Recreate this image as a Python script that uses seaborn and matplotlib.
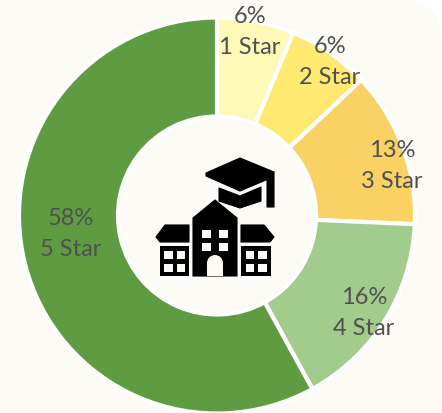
import matplotlib
matplotlib.use("Agg")
import matplotlib.pyplot as plt
from matplotlib.patches import Polygon, Rectangle, Circle, FancyBboxPatch
import seaborn as sns

sns.set_theme(style="white")
plt.rcParams['font.family'] = ['Lato', 'DejaVu Sans']

# share of ratings, clockwise from the top
ratings = ["1 Star", "2 Star", "3 Star", "4 Star", "5 Star"]
shares = [6.3, 6.7, 12.7, 16.3, 58.0]
share_labels = ["6%", "6%", "13%", "16%", "58%"]
colors = ["#FFF9B8", "#FFE970", "#FAD163", "#A2CC8C", "#5F9B41"]
label_pos = [(250, 32), (330, 62), (392, 166), (364, 313), (71, 234)]

BG = "#FDFBF6"
W, H = 442, 414

fig = plt.figure(figsize=(W / 100, H / 100), dpi=100, facecolor="white")
ax = fig.add_axes([0, 0, 1, 1])


def flip(pts):
    # icon points are read in image pixels, y going down
    return [(x, H - y) for x, y in pts]


ax.add_patch(FancyBboxPatch((-60, -60), W + 60, H + 60, boxstyle="round,pad=0,rounding_size=45",
                            fc=BG, ec="none", zorder=0))

wedges, _ = ax.pie(shares, colors=colors, startangle=90, counterclock=False,
                   center=(217, H - 216.5), radius=198, frame=False,
                   wedgeprops=dict(width=99, edgecolor="white", linewidth=3))
ax.set_xlim(0, W)
ax.set_ylim(0, H)
ax.set_aspect("equal")
ax.axis("off")

for (x, y), pct, name in zip(label_pos, share_labels, ratings):
    ax.text(x, H - y, f"{pct}\n{name}", ha="center", va="center", fontsize=17,
            color="#505050", linespacing=1.55, zorder=5)

# school + graduation cap icon
k = "black"
shapes = [
    # cap board
    [(206, 174), (240, 159), (274, 173), (266, 181), (240, 192), (206, 177)],
    # cap base
    [(219, 189), (240, 197), (261, 188), (261, 202), (240, 209), (219, 202)],
    # tassel
    [(267, 176), (274, 173), (274, 208), (267, 208)],
    # main building
    [(193, 219), (215, 201), (237, 219), (237, 277), (193, 277)],
    # left roof
    [(156, 238), (165, 226), (189, 226), (189, 243), (160, 243)],
    # right roof
    [(241, 226), (264, 226), (274, 238), (270, 243), (241, 243)],
]
for s in shapes:
    ax.add_patch(Polygon(flip(s), closed=True, fc=k, ec=k, lw=0.8, joinstyle="round", zorder=6))
# side wings, with their windows cut out
for x0 in (159.5, 241):
    ax.add_patch(Rectangle((x0, H - 277), 29.5, 30, fc=k, ec="none", zorder=6))
    for dx in (4.5, 17):
        for dy in (4, 17):
            ax.add_patch(Rectangle((x0 + dx, H - 277 + dy), 8.5, 8.5, fc=BG, ec="none", zorder=7))
# front windows
for wx in (202, 219):
    for wy in (231, 244):
        ax.add_patch(Rectangle((wx, H - wy - 8), 9, 8, fc=BG, ec="none", zorder=7))
# door
ax.add_patch(Rectangle((207, H - 277), 16, 13, fc=BG, ec="none", zorder=7))
ax.add_patch(Circle((215, H - 264), 8, fc=BG, ec="none", zorder=7))

fig.savefig("out.png", dpi=100, facecolor="white")
